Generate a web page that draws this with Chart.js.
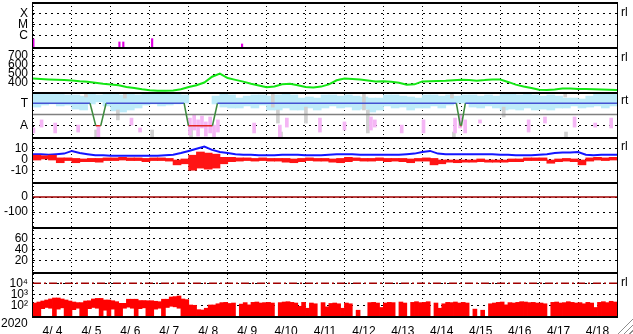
<!DOCTYPE html>
<html>
<head>
<meta charset="utf-8">
<script src="https://cdn.jsdelivr.net/npm/chart.js"></script>
<style>
  html, body { margin: 0; padding: 0; background: #fff; }
  #wrap { position: relative; width: 633px; height: 334px; overflow: hidden;
          font-family: "Liberation Sans", Arial, sans-serif; color: #000; }
  #chart { position: absolute; left: 0; top: 0; }
  .side { position: absolute; left: 621px; font-size: 12px; line-height: 12px; }
  #year { position: absolute; left: 1px; top: 317px; font-size: 12px; line-height: 12px; }
  #grip { position: absolute; left: 617px; top: 318px; width: 16px; height: 16px;
          clip-path: polygon(100% 0, 100% 100%, 0 100%);
          background: repeating-linear-gradient(-45deg, #fff 0 2px, #8c8c8c 2px 3px, #fff 3px 4px); }
</style>
</head>
<body>
<div id="wrap">
  <canvas id="chart" width="633" height="334"></canvas>
  <div class="side" style="top:6px">rl</div>
  <div class="side" style="top:51px">rl</div>
  <div class="side" style="top:94px">rt</div>
  <div class="side" style="top:140px">rl</div>
  <div class="side" style="top:276px">rl</div>
  <div id="year">2020</div>
  <div id="grip"></div>
</div>
<script>
const FONT = '"Liberation Sans", Arial, sans-serif';

// x axis: days since 2020-04-04 00:00, one label per day at noon
const dateLabels = ['4/ 4', '4/ 5', '4/ 6', '4/ 7', '4/ 8', '4/ 9', '4/10', '4/11',
                    '4/12', '4/13', '4/14', '4/15', '4/16', '4/17', '4/18'];

// X-ray flare class (log flux)
const flareTicks = [1e-6, 1e-5, 1e-4];
const flareTickLabels = ['C', 'M', 'X'];
const flareFloor = 1e-7;
const flareDay  = [0.01, 2.22, 2.32, 3.06, 5.37];
const flareFlux = [5.1e-7, 2.8e-7, 2.8e-7, 5.5e-7, 1.85e-7];

// solar wind speed, every 0.2 day from 0 to 15
const speedTicks = [400, 500, 600, 700];
const speed = [450, 445, 440, 436, 433, 428, 420, 414, 404, 392,
               384, 375, 355, 345, 330, 320, 314, 314, 318, 330,
               356, 375, 405, 470, 505, 455, 435, 415, 392, 372,
               352, 362, 385, 392, 375, 355, 350, 360, 385, 430,
               450, 445, 438, 428, 418, 420, 415, 402, 380, 385,
               418, 420, 422, 425, 430, 435, 433, 426, 432, 440,
               438, 412, 382, 362, 345, 325, 322, 328, 338, 340,
               333, 333, 330, 328, 325, 322];

// data status panel (T / A)
const statusTicks = [-0.5, 0.5];
const statusTickLabels = ['A', 'T'];
const statusDay   = [0, 1.465, 1.612, 1.740, 1.877, 3.882, 3.992, 4.609, 4.738, 10.874, 10.977, 11.003, 11.105, 15];
const statusLevel = [0.5, 0.5, -0.5, -0.5, 0.5, 0.5, -0.5, -0.5, 0.5, 0.5, -0.5, -0.5, 0.5, 0.5];
const midDay = [0, 15];
const midLevel = [0, 0];
// cyan band, 0.2 day bins
const cyanHi = [0.96, 0.96, 0.91, 0.96, 0.87, 0.87, 0.82, 0.91, 0.87, 0.96,
                0.91, 0.87, 0.91, 0.87, 0.96, 0.91, 0.96, 0.91, 0.96, 0.87,
                null, null, null, 0.82, 0.96, 0.87, 0.73, 0.82, 0.87, 0.87,
                0.82, 0.87, 0.91, 0.87, 0.73, 0.78, 0.73, 0.87, 0.87, 0.82,
                0.87, 0.82, 0.78, 0.73, 0.73, 0.87, 0.87, 0.82, 0.78, 0.73,
                0.87, 0.87, 0.82, 0.87, 0.82, 0.87, 0.87, 0.82, 0.87, 0.82,
                0.96, 0.91, 0.87, 0.91, 0.87, 0.82, 0.87, 0.82, 0.73, 0.73,
                0.69, 0.82, 0.91, 0.96, 0.96];
const cyanLo = [0.33, 0.42, 0.47, 0.38, 0.42, 0.24, 0.2, 0.47, 0.56, 0.38,
                0.16, 0.11, 0.2, 0.29, 0.42, 0.47, 0.38, 0.42, 0.47, 0.51,
                null, null, null, 0.47, 0.33, 0.29, 0.29, 0.38, 0.29, 0.42,
                0.2, 0.2, 0.29, 0.2, 0.2, 0.29, 0.2, 0.29, 0.38, 0.29,
                0.33, 0.2, 0.24, 0.11, 0.2, 0.38, 0.29, 0.33, 0.2, 0.29,
                0.29, 0.38, 0.29, 0.42, 0.51, 0.51, 0.33, 0.29, 0.38, 0.29,
                0.2, 0.24, 0.2, 0.29, 0.2, 0.24, 0.2, 0.29, 0.29, 0.38,
                0.29, 0.33, 0.38, 0.29, 0.38];
const pinkDay = [0.01, 0.22, 0.57, 1.16, 1.68, 2.53, 2.75, 4.03, 4.14, 4.24, 4.34, 4.44, 4.55, 4.65, 4.75,
                 5.68, 6.34, 6.52, 7.37, 8.0, 8.68, 8.78, 9.47, 10.03, 10.84, 10.97, 11.1, 11.48,
                 12.73, 13.15, 13.91, 14.44, 14.85];
const pinkLo  = [-0.82, -0.56, -0.82, -0.78, -1.0, -0.47, -0.78, -0.91, -0.69, -0.96, -0.6, -0.96, -0.82, -1.0, -0.78,
                 -0.82, -1.0, -0.56, -0.78, -0.69, -0.69, -0.56, -0.82, -0.82, -0.82, -0.6, -0.82, -0.38,
                 -0.78, -0.38, -0.56, -0.56, -0.6];
const pinkHi  = [-0.6, -0.24, -0.38, -0.47, -0.56, -0.16, -0.6, -0.16, -0.02, -0.24, -0.07, -0.33, -0.11, -0.47, -0.24,
                 -0.38, -0.47, -0.16, -0.16, -0.33, -0.11, -0.24, -0.47, -0.24, -0.16, -0.02, -0.24, -0.24,
                 -0.24, -0.11, -0.11, -0.38, -0.16];
const greyDay = [1.36, 1.62, 2.18, 2.36, 3.06, 4.06, 6.16, 6.29, 6.37, 7.01, 8.5, 8.6, 10.76, 10.81, 12.09, 13.67, 13.69];
const greyLo  = [0.78, -1.0, -0.24, 0.73, -1.0, -1.0, 0.33, -0.38, -1.0, -0.38, 0.2, -0.82, 0.73, -1.0, -0.11, 0.78, -1.0];
const greyHi  = [0.96, -0.69, 0.2, 0.96, -0.69, -0.56, 0.96, 0.2, -0.78, 0.33, 0.96, 0.2, 0.96, -0.78, 0.33, 0.96, -0.78];

// IMF Bt (every 0.2 day, 0..15) and Bz range (0.2 day bins)
const imfTicks = [-10, 0, 10];
const bt = [5, 5, 4.5, 5, 5.5, 8, 6, 5, 4, 4,
            3.5, 3.5, 3.5, 3.5, 3.5, 3.5, 3.5, 4, 4.5, 6,
            8, 10, 12, 9, 7, 6, 5, 4.5, 4.5, 4,
            4, 4, 4.5, 4.5, 4.5, 4, 4, 4, 4.5, 5,
            5, 5, 4.5, 4.5, 4.5, 4.5, 4.5, 4.5, 5, 5.5,
            7, 8, 5.5, 5, 5, 5, 5, 5, 5, 5,
            4.5, 4.5, 4, 4, 4, 4.5, 5, 6, 6.5, 6.5,
            7, 4.5, 4, 4.5, 4.5, 4.5];
const bzLo = [-0.5, 0, -0.5, -3, -1, -3, -2, -2, -2.5, -1,
              -1, -0.5, -1, -1, -2, -1, -1, -1.5, -5, -4,
              -10, -8, -9, -8, -4, -2, -1.5, -1, -1.5, -1,
              -1.5, -1.5, -2.5, -3, -2, -1, -1.5, -1.5, -2.5, -3,
              -2, -1, -1.5, -1.5, -1, -2, -1.5, -2, -3, -1.5,
              -1.5, -5, -4, -2.5, -3, -2.5, -2.5, -2, -2.5, -2.5,
              -2.5, -2, -2, -1, -1, -1, -3.5, -2, -1.5, -2,
              -5, -1.5, -0.5, -1, -0.5];
const bzHi = [4, 3.5, 4, 1.5, 1.5, 1, 0.5, 1, 1, 1.5,
              1.5, 2, 1.5, 1.5, 1, 1.5, 1.5, 1, 0, 0.5,
              4, 7, 6, 5, 2, 2, 1.5, 1.5, 1, 1.5,
              1, 1, 1, 0.5, 1, 1.5, 1, 1, 0.5, 1,
              2, 1.5, 1, 1, 1.5, 1, 1, 1, 0.5, 1,
              1.5, 1, 0, 0, 0, 0, 0, 0.5, 0, 0,
              0, 0.5, 0.5, 1.5, 1.5, 1.5, 0, 0.5, 1, 0.5,
              0, 1.5, 2, 1.5, 2];

// Dst
const dstTicks = [-100, 0];
const dstDay = [0, 15];
const dstValue = [0, 0];

// empty index panel
const idxTicks = [20, 40, 60];

// electron flux (0.1 day bins), alert level
const fluxTicks = [100, 1000, 10000];
const fluxTickLabels = ['10\u00B2', '10\u00B3', '10\u2074'];
const fluxFloor = 10;
const fluxAlert = 10000;
const fluxHigh = [175, 215, 265, 325, 400, 490, 490, 400, 325, 265,
                  215, 190, 190, 265, 280, 400, 450, 450, 325, 325,
                  280, 230, 165, 165, 380, 380, 380, 290, 290, 280,
                  280, 250, 230, 380, 380, 600, 650, 740, 400, 350,
                  117, 110, 45, 42, 60, 117, 117, 150, 190, 200,
                  160, 175, null, 140, 190, 120, 200, 215, 175, 190,
                  200, 175, null, 190, 215, 230, 200, 175, 90, 200,
                  60, 175, 150, null, 190, 80, 160, 175, 150, 60,
                  175, 150, null, 40, null, null, 190, 200, 175, 70,
                  175, 200, 190, null, 215, 175, null, 200, 230, 190,
                  200, 230, null, 175, 60, 150, 200, 190, 215, 175,
                  200, 175, null, 50, null, 40, null, 150, 175, 200,
                  215, 120, 190, 175, 200, 230, 215, 190, 200, 175,
                  175, 150, null, 200, 215, 175, 190, 230, 200, 175,
                  190, 150, 200, 175, 70, 200, 230, 190, 250, 215];
// lower edge of the flux trace during the first days (later it reaches the floor)
const fluxLow = [10, 10, 55, 70, 60, 10, 50, 65, 10, 10,
                 45, 60, 10, 10, 55, 70, 60, 10, 40, 10,
                 50, 10, 10, 60, 75, 60, 10, 55, 65, 10,
                 10, 50, 60, 10, 70, 90, 80, 60, 10, 10];

// ---- helpers ----
const grid = (n, w, off) => Array.from({ length: n }, (_, i) => (i + off) * w);
const pts = (xs, ys) => xs.map((x, i) => ({ x, y: ys[i] }));
const ranges = (xs, lo, hi) => xs.map((x, i) => ({ x, y: hi[i] == null ? null : [lo[i], hi[i]] }));

const edge02 = grid(76, 0.2, 0);
const mid02 = grid(75, 0.2, 0.5);
const mid01 = grid(150, 0.1, 0.5);

const lineBase = { type: 'line', xAxisID: 'x', pointRadius: 0, fill: false, tension: 0 };
const barBase = { type: 'bar', xAxisID: 'x', grouped: false, borderWidth: 0 };

const datasets = [
  { ...lineBase, yAxisID: 'y3', data: pts(statusDay, statusLevel), borderWidth: 1.5,
    segment: { borderColor: c => (c.p0.parsed.y > 0 && c.p1.parsed.y > 0) ? '#4452d2'
                                : (c.p0.parsed.y < 0 && c.p1.parsed.y < 0) ? '#e02424' : '#3d8a3d' } },
  { ...lineBase, yAxisID: 'y3', data: pts(midDay, midLevel), borderColor: '#808080', borderWidth: 1.5 },
  { ...barBase, yAxisID: 'y3', data: ranges(pinkDay, pinkLo, pinkHi), backgroundColor: '#f5b6f5', barThickness: 3 },
  { ...barBase, yAxisID: 'y3', data: ranges(greyDay, greyLo, greyHi), backgroundColor: '#d0d0d0', barThickness: 3 },
  { ...barBase, yAxisID: 'y3', data: ranges(mid02, cyanLo, cyanHi), backgroundColor: '#bdebf9', barThickness: 8 },

  { ...lineBase, yAxisID: 'y2', data: pts(edge02, speed), borderColor: '#14e614', borderWidth: 2 },

  { ...barBase, yAxisID: 'y1', data: ranges(flareDay, flareDay.map(() => flareFloor), flareFlux),
    backgroundColor: '#e000e0', barThickness: 1.5 },

  { ...barBase, yAxisID: 'y4', data: ranges(mid02, bzLo, bzHi), backgroundColor: '#ff1414', barThickness: 8 },
  { ...lineBase, yAxisID: 'y4', data: pts(edge02, bt), borderColor: '#1414ff', borderWidth: 2 },

  { ...lineBase, yAxisID: 'y5', data: pts(dstDay, dstValue), borderColor: '#a00000', borderWidth: 1.5 },

  { ...lineBase, yAxisID: 'y7', data: pts([0, 15], [fluxAlert, fluxAlert]), borderColor: '#a00000',
    borderWidth: 1.5, borderDash: [8, 3, 2, 3] },
  { ...barBase, yAxisID: 'y7', data: ranges(mid01, fluxHigh.map((v, i) => fluxLow[i] ?? fluxFloor), fluxHigh),
    backgroundColor: '#ff0000', barThickness: 4 },
];

// scales reserve room for their end labels; the panels are sized by hand here
function noPadding(s) {
  s.paddingTop = 0; s.paddingBottom = 0; s.paddingLeft = 0; s.paddingRight = 0;
}

function panelAxis(o) {
  return {
    type: o.type || 'linear',
    position: 'left',
    stack: 'panels',
    stackWeight: 1,
    offset: false,
    beginAtZero: false,
    min: o.min,
    max: o.max,
    afterFit: s => { s.width = 33; noPadding(s); },
    afterBuildTicks: s => { s.ticks = o.ticks.map(v => ({ value: v })); },
    grid: { color: '#000', lineWidth: 1, drawTicks: false, offset: false },
    border: { display: false, dash: [2, 4] },
    ticks: {
      color: '#000', padding: 5, autoSkip: false,
      font: { family: FONT, size: 12 },
      callback: o.labels ? (v, i) => o.labels[i] : v => String(v),
    },
  };
}

// panels defined bottom-up: the left stack puts the last one on top
const scales = {
  x: {
    type: 'linear', position: 'bottom', min: 0, max: 15, offset: false,
    afterFit: s => { s.height = 0; noPadding(s); },
    ticks: { display: false, stepSize: 1 },
    grid: { color: '#000', lineWidth: 1, drawTicks: false, offset: false },
    border: { display: false, dash: [1, 3] },
  },
  xl: {
    type: 'linear', position: 'bottom', min: 0, max: 15, offset: false,
    afterFit: s => { s.height = 17; noPadding(s); },
    afterBuildTicks: s => { s.ticks = dateLabels.map((_, i) => ({ value: i + 0.5 })); },
    grid: { display: false, offset: false },
    border: { display: false },
    ticks: { color: '#000', padding: -1, autoSkip: false, maxRotation: 0,
             font: { family: FONT, size: 12 }, callback: (v, i) => dateLabels[i] },
  },
  y7: panelAxis({ type: 'logarithmic', min: 10, max: 1e5, ticks: fluxTicks, labels: fluxTickLabels }),
  y6: panelAxis({ min: 0, max: 80, ticks: idxTicks }),
  y5: panelAxis({ min: -200, max: 100, ticks: dstTicks }),
  y4: panelAxis({ min: -21, max: 21, ticks: imfTicks }),
  y3: panelAxis({ min: -1, max: 1, ticks: statusTicks, labels: statusTickLabels }),
  y2: panelAxis({ min: 300, max: 800, ticks: speedTicks }),
  y1: panelAxis({ type: 'logarithmic', min: 1e-7, max: 1e-3, ticks: flareTicks, labels: flareTickLabels }),
};

const panelIds = ['y1', 'y2', 'y3', 'y4', 'y5', 'y6', 'y7'];

const panelFrame = {
  id: 'panelFrame',
  afterDraw(chart) {
    const { ctx, chartArea: a } = chart;
    ctx.save();
    ctx.strokeStyle = '#000';
    ctx.lineWidth = 2;
    panelIds.forEach(id => {
      const s = chart.scales[id];
      ctx.beginPath();
      ctx.moveTo(a.left - 1, s.top + 1);
      ctx.lineTo(a.right + 1, s.top + 1);
      ctx.stroke();
    });
    ctx.beginPath();
    ctx.moveTo(a.left - 1, a.bottom);
    ctx.lineTo(a.right + 1, a.bottom);
    ctx.stroke();
    ctx.lineWidth = 1;
    ctx.beginPath();
    ctx.moveTo(a.left - 0.5, a.top);
    ctx.lineTo(a.left - 0.5, a.bottom);
    ctx.moveTo(a.right + 0.5, a.top);
    ctx.lineTo(a.right + 0.5, a.bottom);
    ctx.stroke();
    ctx.restore();
  }
};

new Chart(document.getElementById('chart'), {
  type: 'line',
  data: { datasets },
  options: {
    responsive: false,
    devicePixelRatio: 1,
    animation: false,
    events: [],
    layout: { padding: { left: 0, right: 16, top: 2, bottom: 0 }, autoPadding: false },
    plugins: { legend: { display: false }, tooltip: { enabled: false } },
    scales,
  },
  plugins: [panelFrame],
});
</script>
</body>
</html>
